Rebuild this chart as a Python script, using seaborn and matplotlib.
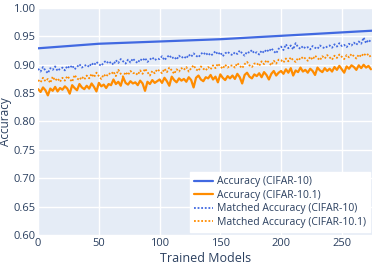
import numpy as np
import pandas as pd
import seaborn as sns
import matplotlib
matplotlib.use("Agg")
import matplotlib.pyplot as plt

# ---- data (accuracy values in thousandths) ----
acc10_x = [0, 25, 50, 75, 100, 125, 150, 175, 200, 225, 250, 275]
acc10 = [929, 933, 937, 939, 941, 943, 945, 948, 951, 954, 957, 960]

models_x = list(range(0, 276, 2))

matched10 = [
    893, 888, 896, 890, 885, 894, 891, 897, 889, 893,
    895, 890, 898, 894, 899, 892, 896, 901, 895, 898,
    900, 896, 903, 899, 905, 901, 898, 904, 907, 902,
    905, 900, 908, 903, 910, 906, 902, 909, 904, 911,
    906, 903, 910, 907, 912, 905, 909, 913, 908, 911,
    910, 915, 908, 913, 917, 911, 914, 909, 916, 912,
    915, 911, 918, 914, 920, 916, 913, 919, 922, 917,
    921, 916, 919, 924, 918, 922, 915, 920, 923, 919,
    917, 922, 919, 925, 920, 916, 923, 921, 926, 920,
    922, 918, 925, 921, 927, 923, 929, 924, 920, 928,
    932, 926, 936, 929, 934, 927, 938, 931, 928, 933,
    929, 931, 927, 933, 930, 928, 934, 931, 929, 932,
    934, 930, 936, 932, 938, 933, 935, 931, 937, 934,
    939, 935, 941, 937, 948, 938, 944, 940,
]

acc101 = [
    857, 852, 860, 855, 846, 858, 854, 861, 853, 859,
    856, 862, 858, 849, 864, 859, 855, 866, 860, 857,
    863, 858, 867, 861, 853, 868, 862, 865, 859, 866,
    864, 874, 866, 870, 863, 878, 868, 865, 871, 867,
    869, 864, 872, 867, 854, 870, 866, 873, 868, 871,
    874, 868, 877, 871, 863, 879, 873, 869, 876, 872,
    875, 870, 878, 873, 860, 877, 881, 874, 871, 878,
    876, 882, 874, 879, 869, 883, 877, 873, 880, 876,
    881, 875, 884, 878, 867, 882, 886, 879, 876, 883,
    880, 885, 878, 887, 882, 874, 884, 889, 881, 886,
    889, 884, 892, 886, 894, 881, 890, 887, 895, 888,
    891, 886, 893, 889, 882, 895, 890, 887, 894, 889,
    893, 888, 896, 891, 898, 892, 886, 897, 893, 899,
    896, 891, 899, 894, 900, 895, 898, 892,
]

matched101 = [
    873, 869, 877, 871, 875, 868, 879, 872, 876, 870,
    877, 872, 880, 875, 870, 882, 876, 873, 879, 874,
    881, 876, 884, 878, 886, 880, 875, 883, 879, 885,
    883, 888, 880, 891, 884, 879, 887, 882, 889, 885,
    886, 882, 890, 884, 893, 887, 881, 889, 885, 892,
    889, 885, 893, 887, 895, 890, 884, 892, 888, 894,
    891, 896, 888, 894, 899, 892, 889, 897, 893, 890,
    896, 892, 899, 894, 902, 897, 893, 900, 895, 898,
    899, 895, 903, 898, 894, 901, 905, 899, 896, 902,
    903, 898, 906, 901, 908, 904, 899, 907, 902, 909,
    908, 904, 911, 906, 913, 908, 905, 912, 909, 914,
    911, 907, 914, 909, 916, 912, 908, 915, 911, 917,
    913, 909, 916, 912, 918, 914, 910, 917, 913, 919,
    915, 911, 918, 914, 920, 916, 919, 913,
]

labels = ["Accuracy (CIFAR-10)", "Accuracy (CIFAR-10.1)",
          "Matched Accuracy (CIFAR-10)", "Matched Accuracy (CIFAR-10.1)"]
x_ticks = [0, 50, 100, 150, 200, 250]
y_ticks = [0.60, 0.65, 0.70, 0.75, 0.80, 0.85, 0.90, 0.95, 1.00]

# ---- style ----
sns.set_theme(style="darkgrid", rc={
    "axes.facecolor": "#E5ECF6",
    "grid.color": "white",
    "grid.linewidth": 1.0,
    "axes.edgecolor": "#E5ECF6",
})
plt.rcParams["font.family"] = ["Open Sans", "DejaVu Sans"]
text_color = "#2a3f5f"

fig = plt.figure(figsize=(3.74, 2.67), dpi=100)
ax = fig.add_axes([0.102, 0.12, 0.893, 0.85])

blue = "#4169E1"
orange = "#FF8C00"

sns.lineplot(x=acc10_x, y=np.array(acc10) / 1000, ax=ax, color=blue,
             linewidth=1.6, label=labels[0])
sns.lineplot(x=models_x, y=np.array(acc101) / 1000, ax=ax, color=orange,
             linewidth=1.6, label=labels[1])
sns.lineplot(x=models_x, y=np.array(matched10) / 1000, ax=ax, color=blue,
             linewidth=1.3, linestyle=(0, (1, 1)), label=labels[2])
sns.lineplot(x=models_x, y=np.array(matched101) / 1000, ax=ax, color=orange,
             linewidth=1.3, linestyle=(0, (1, 1)), label=labels[3])

ax.set_xlim(0, 275)
ax.set_ylim(0.6, 1.0)
ax.set_xticks(x_ticks)
ax.set_yticks(y_ticks)
ax.set_yticklabels([f"{v:.2f}" for v in y_ticks])
ax.tick_params(axis="both", labelsize=8, colors=text_color, length=0, pad=2)
ax.set_xlabel("Trained Models", fontsize=9, color=text_color, labelpad=2)
ax.set_ylabel("Accuracy", fontsize=8.5, color=text_color)
ax.yaxis.set_label_coords(-0.077, 0.5)
for s in ax.spines.values():
    s.set_visible(False)

leg = ax.legend(loc="lower right", bbox_to_anchor=(0.995, 0.012),
                borderaxespad=0, fontsize=7.5, frameon=True, fancybox=False,
                handlelength=1.8, handletextpad=0.4, labelspacing=0.25,
                borderpad=0.4)
leg.get_frame().set_facecolor("white")
leg.get_frame().set_edgecolor("white")
leg.get_frame().set_alpha(1.0)
for t in leg.get_texts():
    t.set_color(text_color)

fig.savefig("out.png", dpi=100)
